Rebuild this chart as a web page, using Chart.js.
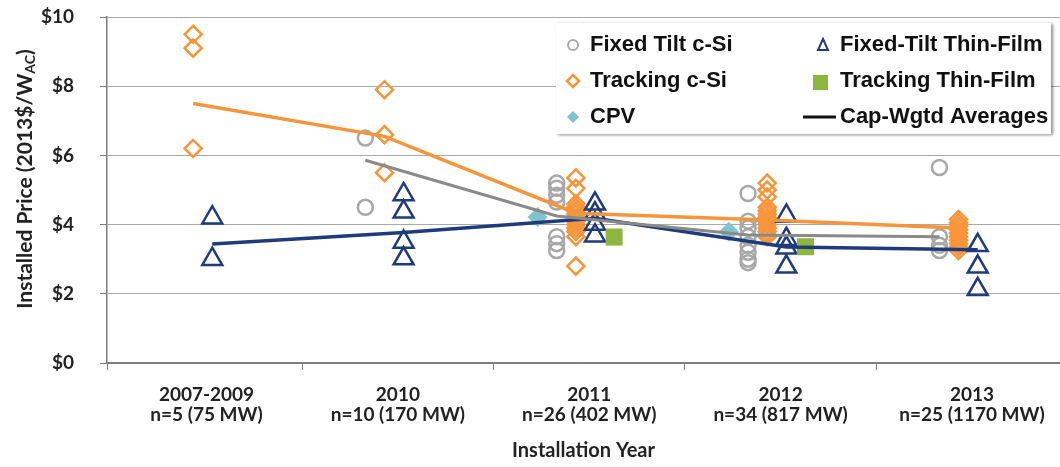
<!DOCTYPE html>
<html>
<head>
<meta charset="utf-8">
<script src="https://cdn.jsdelivr.net/npm/chart.js@4/dist/chart.umd.min.js"></script>
<style>
  html, body { margin: 0; padding: 0; background: #fff; }
</style>
</head>
<body>
<canvas id="chart" width="1060" height="467"></canvas>
<script>
// x categories (two-line labels) and y ticks
const categories = [
  ['2007-2009', 'n=5 (75 MW)'],
  ['2010', 'n=10 (170 MW)'],
  ['2011', 'n=26 (402 MW)'],
  ['2012', 'n=34 (817 MW)'],
  ['2013', 'n=25 (1170 MW)']
];
const yTicks = [0, 2, 4, 6, 8, 10];

// individual projects, one list per category (2013$/W_AC)
const fixedTiltCSi = [
  [],
  [6.5, 4.5],
  [5.2, 5.05, 4.85, 4.65, 3.65, 3.45, 3.25],
  [4.9, 4.1, 3.9, 3.65, 3.4, 3.2, 3.0, 2.9],
  [5.65, 3.65, 3.4, 3.25]
];
const trackingCSi = [
  [9.5, 9.1, 6.2],
  [7.9, 6.6, 5.5],
  [5.35, 5.05, 4.6, 4.5, 4.4, 4.3, 4.2, 4.1, 4.0, 3.9, 3.8, 3.65, 2.8],
  [5.2, 5.0, 4.8, 4.5, 4.4, 4.3, 4.2, 4.1, 4.0, 3.9, 3.8, 3.7, 3.65],
  [4.15, 4.05, 3.95, 3.85, 3.75, 3.65, 3.55, 3.45, 3.35, 3.25]
];
const cpv = [[], [], [4.22], [3.79], []];
const fixedTiltThinFilm = [
  [4.2, 3.0],
  [4.87, 4.37, 3.5, 3.02],
  [4.6, 4.32, 4.02, 3.68],
  [4.25, 3.58, 3.33, 2.78],
  [3.4, 2.78, 2.13]
];
const trackingThinFilm = [[], [], [3.64], [3.36], []];

// capacity-weighted averages
const avgFixedCSi = [null, 5.86, 4.25, 3.7, 3.65];
const avgTrackingCSi = [7.5, 6.55, 4.33, 4.13, 3.9];
const avgThinFilm = [3.44, 3.77, 4.18, 3.35, 3.27];

const ORANGE = '#F7953B';
const GRAY = '#A8A8A8';
const GRAY_LINE = '#8A8A8A';
const NAVY = '#1F3B7C';
const GREEN = '#8DB53F';
const TEAL = '#7FC3CE';
const GRID = '#A9A9A9';
const AXIS = '#7F7F7F';

// horizontal shift of each series inside its category
const shift = { cpv: -0.27, fixed: -0.17, tracking: -0.07, thin: 0.03, trackTF: 0.13 };

function toPoints(groups, dx) {
  const pts = [];
  groups.forEach((vals, i) => {
    vals.forEach(v => { if (v !== null) pts.push({ x: i + 0.5 + dx, y: v }); });
  });
  return pts;
}
const single = arr => arr.map(v => [v]);

const lineDs = (label, data, dx, color, width) => ({
  label, data: toPoints(single(data), dx), showLine: true, pointRadius: 0,
  borderColor: color, borderWidth: width, backgroundColor: color
});

// rotated y title with subscript
const yTitle = {
  id: 'yTitle',
  afterDraw(chart) {
    const ctx = chart.ctx;
    const main = 'Installed Price (2013$/W';
    const sub = 'AC';
    const end = ')';
    ctx.save();
    ctx.translate(25, 179);
    ctx.rotate(-Math.PI / 2);
    ctx.fillStyle = '#222';
    ctx.textBaseline = 'middle';
    ctx.textAlign = 'left';
    const big = 'bold 21px Lato, sans-serif';
    const small = 'bold 14px Lato, sans-serif';
    ctx.font = big;
    const w1 = ctx.measureText(main).width;
    const w3 = ctx.measureText(end).width;
    ctx.font = small;
    const w2 = ctx.measureText(sub).width;
    let x = -(w1 + w2 + w3) / 2;
    ctx.font = big;
    ctx.fillText(main, x, 0);
    x += w1;
    ctx.font = small;
    ctx.fillText(sub, x, 5);
    x += w2;
    ctx.font = big;
    ctx.fillText(end, x, 0);
    ctx.restore();
  }
};

const legendItems = [
  { text: 'Fixed Tilt c-Si', kind: 'circle', col: 0, row: 0 },
  { text: 'Tracking c-Si', kind: 'diamond', col: 0, row: 1 },
  { text: 'CPV', kind: 'cpv', col: 0, row: 2 },
  { text: 'Fixed-Tilt Thin-Film', kind: 'triangle', col: 1, row: 0 },
  { text: 'Tracking Thin-Film', kind: 'square', col: 1, row: 1 },
  { text: 'Cap-Wgtd Averages', kind: 'line', col: 1, row: 2 }
];

// boxed legend inside the plot, two columns
const boxLegend = {
  id: 'boxLegend',
  afterDraw(chart) {
    const ctx = chart.ctx;
    ctx.save();
    ctx.shadowColor = 'rgba(0,0,0,0.45)';
    ctx.shadowBlur = 3;
    ctx.shadowOffsetX = 2;
    ctx.shadowOffsetY = 1;
    ctx.fillStyle = '#fff';
    ctx.fillRect(556, 23, 495, 111);
    ctx.restore();

    ctx.save();
    const markX = [573, 820];
    const textX = [590, 840];
    const rowY = [45, 81, 117];
    ctx.font = 'bold 22px "Liberation Sans", Arial, sans-serif';
    ctx.textBaseline = 'middle';
    legendItems.forEach(it => {
      const mx = markX[it.col], my = rowY[it.row];
      ctx.beginPath();
      if (it.kind === 'circle') {
        ctx.strokeStyle = GRAY; ctx.lineWidth = 2;
        ctx.arc(mx, my, 5, 0, Math.PI * 2); ctx.stroke();
      } else if (it.kind === 'diamond') {
        ctx.strokeStyle = ORANGE; ctx.lineWidth = 2.5;
        ctx.moveTo(mx, my - 6); ctx.lineTo(mx + 6, my); ctx.lineTo(mx, my + 6); ctx.lineTo(mx - 6, my);
        ctx.closePath(); ctx.stroke();
      } else if (it.kind === 'cpv') {
        ctx.fillStyle = TEAL;
        ctx.moveTo(mx, my - 6); ctx.lineTo(mx + 6, my); ctx.lineTo(mx, my + 6); ctx.lineTo(mx - 6, my);
        ctx.closePath(); ctx.fill();
      } else if (it.kind === 'triangle') {
        ctx.strokeStyle = NAVY; ctx.lineWidth = 2;
        ctx.moveTo(mx + 3, my - 6); ctx.lineTo(mx + 8, my + 5); ctx.lineTo(mx - 2, my + 5);
        ctx.closePath(); ctx.stroke();
      } else if (it.kind === 'square') {
        ctx.fillStyle = GREEN;
        ctx.fillRect(mx - 7, my - 6, 15, 15);
      } else if (it.kind === 'line') {
        ctx.strokeStyle = '#111'; ctx.lineWidth = 3;
        ctx.moveTo(mx - 17, my); ctx.lineTo(mx + 16, my); ctx.stroke();
      }
      ctx.fillStyle = '#111';
      ctx.fillText(it.text, textX[it.col], my);
    });
    ctx.restore();
  }
};

Chart.defaults.font.family = 'Lato, sans-serif';
Chart.defaults.color = '#222';

new Chart(document.getElementById('chart'), {
  type: 'scatter',
  data: {
    datasets: [
      lineDs('Cap-Wgtd Averages', avgTrackingCSi, shift.tracking, ORANGE, 3.5),
      lineDs('Cap-Wgtd Averages', avgFixedCSi, shift.fixed, GRAY_LINE, 3),
      lineDs('Cap-Wgtd Averages', avgThinFilm, shift.thin, NAVY, 3.5),
      {
        label: 'Tracking Thin-Film', data: toPoints(trackingThinFilm, shift.trackTF),
        pointStyle: 'rect', pointRadius: 12, borderWidth: 0, backgroundColor: GREEN, borderColor: GREEN
      },
      {
        label: 'Fixed-Tilt Thin-Film', data: toPoints(fixedTiltThinFilm, shift.thin),
        pointStyle: 'triangle', pointRadius: 11.5, borderWidth: 2.5, borderColor: NAVY, backgroundColor: 'rgba(255,255,255,0)'
      },
      {
        label: 'Tracking c-Si', data: toPoints(trackingCSi, shift.tracking),
        pointStyle: 'rectRot', pointRadius: 8.5, borderWidth: 2.5, borderColor: ORANGE, backgroundColor: 'rgba(255,255,255,0)'
      },
      {
        label: 'Fixed Tilt c-Si', data: toPoints(fixedTiltCSi, shift.fixed),
        pointStyle: 'circle', pointRadius: 7.5, borderWidth: 2.5, borderColor: GRAY, backgroundColor: 'rgba(255,255,255,0)'
      },
      {
        label: 'CPV', data: toPoints(cpv, shift.cpv),
        pointStyle: 'rectRot', pointRadius: 10, borderWidth: 0, backgroundColor: TEAL, borderColor: TEAL
      }
    ]
  },
  options: {
    responsive: false,
    animation: false,
    devicePixelRatio: 1,
    events: [],
    layout: { autoPadding: false, padding: { top: 17, right: 0, bottom: 0, left: 0 } },
    plugins: { legend: { display: false }, tooltip: { enabled: false } },
    scales: {
      x: {
        type: 'linear',
        min: -0.02,
        max: 4.96,
        afterBuildTicks: axis => {
          const t = [-0.02, 1, 2, 3, 4];
          categories.forEach((c, i) => t.push(i + 0.5));
          axis.ticks = t.sort((a, b) => a - b).map(v => ({ value: v }));
        },
        afterFit: s => {
          s.height = 104;
          s.paddingLeft = 0;
          s.paddingRight = 0;
        },
        border: { display: true, color: AXIS, width: 1.5 },
        grid: {
          drawOnChartArea: false,
          tickLength: 7,
          tickColor: c => (c.tick && Number.isInteger(c.tick.value - 0.5)) ? 'rgba(0,0,0,0)' : AXIS
        },
        ticks: {
          autoSkip: false,
          maxRotation: 0,
          padding: 15,
          color: '#222',
          font: { size: 19, weight: 'bold', lineHeight: 1.05 },
          callback: v => {
            const i = v - 0.5;
            return Number.isInteger(i) && categories[i] ? categories[i] : '';
          }
        },
        title: {
          display: true,
          text: 'Installation Year',
          color: '#222',
          font: { size: 20, weight: 'bold' },
          padding: { top: 0, bottom: 4 }
        }
      },
      y: {
        min: 0,
        max: 10,
        afterBuildTicks: axis => { axis.ticks = yTicks.map(v => ({ value: v })); },
        afterFit: s => {
          s.width = 107;
          s.paddingTop = 0;
          s.paddingBottom = 0;
        },
        border: { display: true, color: AXIS, width: 1.5 },
        grid: {
          color: c => (c.tick && c.tick.value === 0) ? AXIS : GRID,
          lineWidth: 1,
          tickLength: 7,
          tickColor: AXIS
        },
        ticks: {
          padding: 26,
          color: '#222',
          font: { family: '"Liberation Sans Narrow", Lato, sans-serif', size: 19, weight: 'bold' },
          callback: v => '$' + v
        }
      }
    }
  },
  plugins: [yTitle, boxLegend]
});
</script>
</body>
</html>
